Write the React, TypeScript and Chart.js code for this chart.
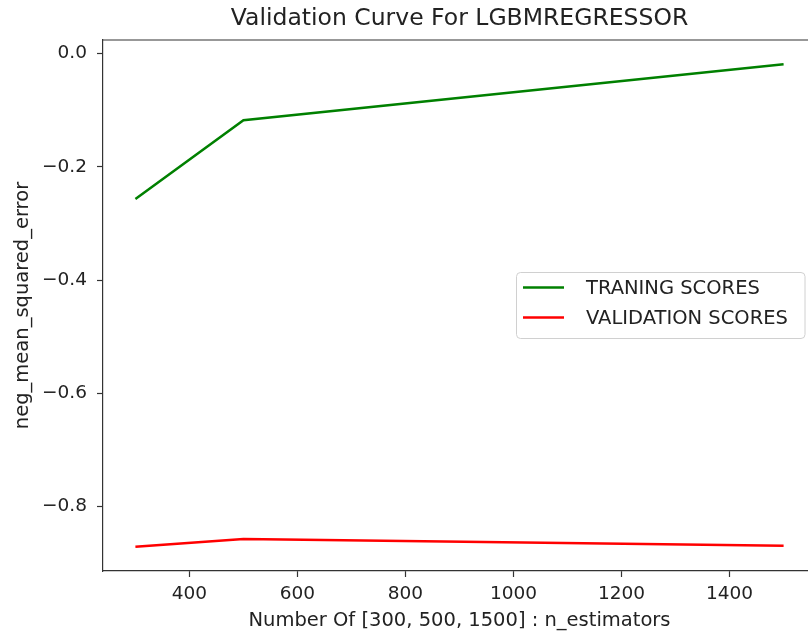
import React, { useEffect, useRef } from "react";
import { Chart, registerables } from "chart.js";

Chart.register(...registerables);

const nEstimators = [300, 500, 1500];
const trainingScores = [-0.257, -0.118, -0.019];
const validationScores = [-0.871, -0.857, -0.869];
const xTickValues = [400, 600, 800, 1000, 1200, 1400];
const yTickValues = [-0.8, -0.6, -0.4, -0.2, 0.0];
const seriesLabels = ["TRANING SCORES", "VALIDATION SCORES"];
const seriesColors = ["#008000", "#ff0000"];

const chartTitle = "Validation Curve For LGBMREGRESSOR";
const xAxisTitle = "Number Of [300, 500, 1500] : n_estimators";
const yAxisTitle = "neg_mean_squared_error";

const FONT = "'DejaVu Sans', sans-serif";
const TEXT = "#222222";
const SPINE = "#333333";
const CANVAS_W = 830;
const CANVAS_H = 637;

// Matplotlib-like 5% margins around the data
const xMin = 240;
const xMax = 1560;
const yMin = -0.9136;
const yMax = 0.0236;

const fmtTick = (v: number) => {
  const s = (Math.abs(v) < 1e-9 ? 0 : v).toFixed(1);
  return s.replace("-", "\u2212");
};

const decorations = {
  id: "decorations",
  afterDraw(chart: any) {
    const { ctx, chartArea } = chart;
    const { left, right, top, bottom } = chartArea;
    ctx.save();

    // top and right spines
    ctx.strokeStyle = SPINE;
    ctx.lineWidth = 1.2;
    ctx.beginPath();
    ctx.moveTo(left, top);
    ctx.lineTo(right, top);
    ctx.lineTo(right, bottom);
    ctx.stroke();

    // title
    ctx.fillStyle = TEXT;
    ctx.textAlign = "center";
    ctx.textBaseline = "middle";
    ctx.font = `23.5px ${FONT}`;
    ctx.fillText(chartTitle, (left + right) / 2, 19);

    // axis titles
    ctx.font = `19.5px ${FONT}`;
    ctx.fillText(xAxisTitle, (left + right) / 2, 621);
    ctx.save();
    ctx.translate(23, (top + bottom) / 2);
    ctx.rotate(-Math.PI / 2);
    ctx.fillText(yAxisTitle, 0, 0);
    ctx.restore();

    // legend
    const bx = 516.5;
    const by = 272.5;
    const bw = 288.5;
    const bh = 66;
    const r = 4;
    ctx.beginPath();
    ctx.moveTo(bx + r, by);
    ctx.lineTo(bx + bw - r, by);
    ctx.quadraticCurveTo(bx + bw, by, bx + bw, by + r);
    ctx.lineTo(bx + bw, by + bh - r);
    ctx.quadraticCurveTo(bx + bw, by + bh, bx + bw - r, by + bh);
    ctx.lineTo(bx + r, by + bh);
    ctx.quadraticCurveTo(bx, by + bh, bx, by + bh - r);
    ctx.lineTo(bx, by + r);
    ctx.quadraticCurveTo(bx, by, bx + r, by);
    ctx.closePath();
    ctx.fillStyle = "rgba(255,255,255,0.85)";
    ctx.fill();
    ctx.strokeStyle = "#d0d0d0";
    ctx.lineWidth = 1;
    ctx.stroke();

    const rows = [287.5, 317.5];
    chart.data.datasets.forEach((ds: any, i: number) => {
      const y = rows[i];
      ctx.strokeStyle = ds.borderColor;
      ctx.lineWidth = 2.5;
      ctx.beginPath();
      ctx.moveTo(523, y);
      ctx.lineTo(564, y);
      ctx.stroke();
      ctx.fillStyle = TEXT;
      ctx.textAlign = "left";
      ctx.textBaseline = "middle";
      ctx.font = `19.5px ${FONT}`;
      ctx.fillText(ds.label, 586, y + 1);
    });

    ctx.restore();
  },
};

export default function App() {
  const canvasRef = useRef<HTMLCanvasElement | null>(null);

  useEffect(() => {
    const canvas = canvasRef.current;
    if (!canvas) return;
    const chart = new Chart(canvas, {
      type: "line",
      data: {
        datasets: [
          {
            label: seriesLabels[0],
            data: nEstimators.map((x, i) => ({ x, y: trainingScores[i] })),
            borderColor: seriesColors[0],
            backgroundColor: seriesColors[0],
            borderWidth: 2.5,
            pointRadius: 0,
            tension: 0,
          },
          {
            label: seriesLabels[1],
            data: nEstimators.map((x, i) => ({ x, y: validationScores[i] })),
            borderColor: seriesColors[1],
            backgroundColor: seriesColors[1],
            borderWidth: 2.5,
            pointRadius: 0,
            tension: 0,
          },
        ],
      },
      options: {
        animation: false,
        responsive: false,
        devicePixelRatio: 1,
        layout: { padding: { left: 0, top: 40, right: CANVAS_W - 816, bottom: 0 } },
        plugins: {
          legend: { display: false },
          title: { display: false },
          tooltip: { enabled: false },
        },
        scales: {
          x: {
            type: "linear",
            min: xMin,
            max: xMax,
            afterBuildTicks: (scale: any) => {
              scale.ticks = xTickValues.map((value) => ({ value }));
            },
            afterFit: (scale: any) => {
              scale.height = CANVAS_H - 571;
            },
            ticks: {
              autoSkip: false,
              maxRotation: 0,
              padding: 6,
              color: TEXT,
              font: { family: FONT, size: 18.5 },
              callback: (v: any) => String(v),
            },
            grid: {
              display: true,
              drawOnChartArea: false,
              drawTicks: true,
              tickLength: 6,
              tickWidth: 1.2,
              tickColor: SPINE,
            },
            border: { display: true, color: SPINE, width: 1.2 },
          },
          y: {
            type: "linear",
            min: yMin,
            max: yMax,
            afterBuildTicks: (scale: any) => {
              scale.ticks = yTickValues.map((value) => ({ value }));
            },
            afterFit: (scale: any) => {
              scale.width = 103;
            },
            ticks: {
              autoSkip: false,
              padding: 10,
              color: TEXT,
              font: { family: FONT, size: 18.5 },
              callback: (v: any) => fmtTick(Number(v)),
            },
            grid: {
              display: true,
              drawOnChartArea: false,
              drawTicks: true,
              tickLength: 6,
              tickWidth: 1.2,
              tickColor: SPINE,
            },
            border: { display: true, color: SPINE, width: 1.2 },
          },
        },
      },
      plugins: [decorations],
    } as any);
    return () => chart.destroy();
  }, []);

  return (
    <div
      style={{
        position: "fixed",
        left: 0,
        top: 0,
        width: 808,
        height: 637,
        overflow: "hidden",
        background: "#ffffff",
      }}
    >
      <canvas
        ref={canvasRef}
        width={CANVAS_W}
        height={CANVAS_H}
        style={{ display: "block", width: CANVAS_W, height: CANVAS_H }}
      />
    </div>
  );
}
